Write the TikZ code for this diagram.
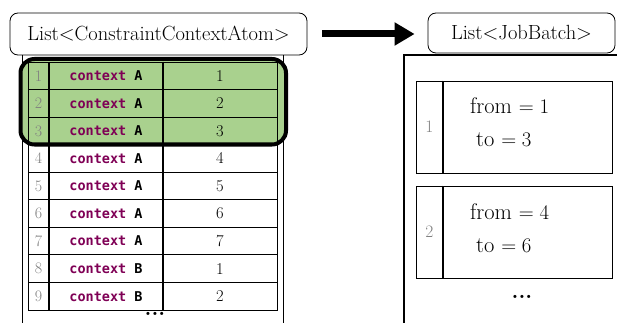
\documentclass[tikz,border=0pt]{standalone}
\usepackage{fontspec}
\newfontfamily\codefont{DejaVu Sans Mono}
\usetikzlibrary{arrows.meta}
\definecolor{hlgreen}{HTML}{A9D18E}
\definecolor{kwpurple}{HTML}{7F0055}
\definecolor{numgray}{HTML}{808080}
\begin{document}
\begin{tikzpicture}[x=1pt,y=-1pt,
  titlebox/.style={draw,rounded corners=8pt,line width=0.8pt,inner sep=0pt,font=\fontsize{20.5}{24}\selectfont},
  cell/.style={draw,line width=0.8pt,inner sep=0pt,minimum height=27.55pt},
  numcell/.style={cell,minimum width=21pt,text=numgray,font=\fontsize{16}{18}\selectfont},
  ctxcell/.style={cell,minimum width=114pt,font=\codefont\bfseries\fontsize{13.5}{15}\selectfont},
  valcell/.style={cell,minimum width=114pt,font=\fontsize{16.5}{18}\selectfont},
  bnum/.style={draw,line width=0.9pt,inner sep=0pt,minimum width=27pt,minimum height=92pt,text=numgray,font=\fontsize{17.5}{20}\selectfont},
  bbody/.style={draw,line width=0.9pt,inner sep=0pt,minimum width=169pt,minimum height=92pt},
  btext/.style={anchor=west,inner sep=0pt,font=\fontsize{22.5}{26}\selectfont},
  divider/.style={line width=1.8pt},
  frame/.style={line width=1pt},
  dots/.style={font=\fontsize{22}{24}\selectfont\bfseries}
]
\useasboundingbox (0,0) rectangle (617,323);
% title boxes
\node[titlebox,minimum width=297pt,minimum height=42pt] (lt) at (158.5,34) {List$<$ConstraintContextAtom$>$};
\node[titlebox,minimum width=187pt,minimum height=40pt] (rt) at (521.5,33) {List$<$JobBatch$>$};
% arrow
\draw[line width=7pt,-{Triangle[length=20pt,width=22pt]},shorten <=15pt,shorten >=13pt] (lt.east) -- (lt.east -| rt.west);
% left container
\draw[frame] (22,55) -- (22,323);
\draw[frame] (283,55) -- (283,323);
% highlight fill
\fill[hlgreen,rounded corners=14pt] (20.5,59) rectangle (286,144.5);
% table
\foreach \i/\l/\v in {1/A/1,2/A/2,3/A/3,4/A/4,5/A/5,6/A/6,7/A/7,8/B/1,9/B/2}{
  \pgfmathsetmacro{\yy}{62+(\i-0.5)*27.55}
  \node[numcell] (n\i) at (38.5,\yy) {\i};
  \node[ctxcell] (c\i) at (106,\yy) {\textcolor{kwpurple}{context} \l};
  \node[valcell] (v\i) at (220,\yy) {\v};
}
\draw[divider] (c1.north west) -- (c9.south west);
\draw[line width=2.2pt] (v1.north west) -- (v9.south west);
% highlight border
\draw[line width=4pt,rounded corners=14pt] (20.5,59) rectangle (286,144.5);
\node[dots] (ldots) at (155,314) {...};
% right container
\draw[line width=1.4pt] (617,55) -- (404,55) -- (404,323);
% batch 1
\node[bnum] (b1n) at (429.5,127) {1};
\node[bbody] (b1b) at (527.5,127) {};
\draw[divider] (b1b.north west) -- (b1b.south west);
\node[btext] (b1f) at (470,106) {from $=1$};
\node[btext] (b1t) at (476,140) {to $=3$};
% batch 2
\node[bnum] (b2n) at (429.5,232) {2};
\node[bbody] (b2b) at (527.5,232) {};
\draw[divider] (b2b.north west) -- (b2b.south west);
\node[btext] (b2f) at (470,212) {from $=4$};
\node[btext] (b2t) at (476,246) {to $=6$};
\node[dots] (rdots) at (522,297) {...};
\end{tikzpicture}
\end{document}
